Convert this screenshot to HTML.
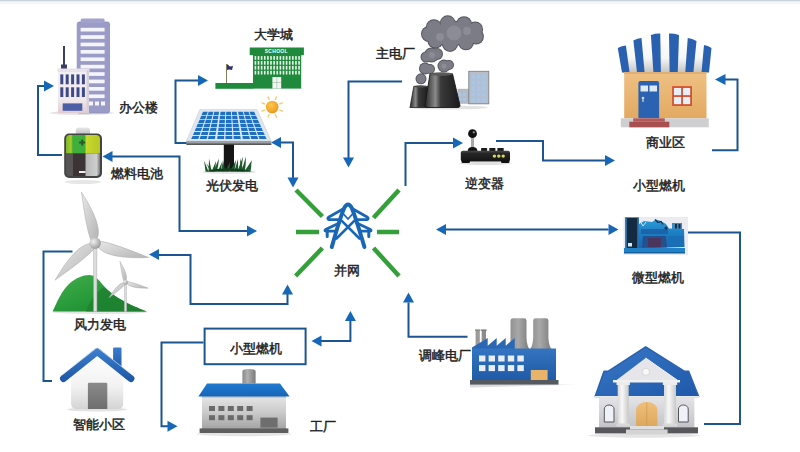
<!DOCTYPE html>
<html><head><meta charset="utf-8">
<style>
html,body{margin:0;padding:0;background:#fff;}
svg{display:block;}
text{font-family:"Liberation Sans",sans-serif;font-size:13px;fill:#222;stroke:#222;stroke-width:0.45px;}
</style></head><body>
<svg width="800" height="452" viewBox="0 0 800 452">
<defs>
<marker id="ah" viewBox="0 0 10 11" refX="10" refY="5.5" markerWidth="10" markerHeight="11" markerUnits="userSpaceOnUse" orient="auto"><path d="M0,0 L10,5.5 L0,11 Z" fill="#1767b8"/></marker>
</defs>
<rect x="0" y="0" width="800" height="452" fill="#fff"/>
<rect x="0" y="1" width="800" height="3" fill="#f4f8fc"/><rect x="0" y="0" width="800" height="1.3" fill="#c9d3dd"/>

<!-- connector lines -->
<g fill="none" stroke="#1c5592" stroke-width="2">
  <!-- battery -> office -->
  <polyline points="62,155 38,155 38,86 45,86"/>
  <!-- fuel line -> battery, and to pylon -->
  <polyline points="248,231 179.5,231 179.5,156.5 112,156.5"/>
  <!-- solar -> school -->
  <polyline points="187,143 175.5,143 175.5,80.5 199,80.5"/>
  <!-- solar <-> pylon -->
  <polyline points="281,142.5 293,142.5 293,178"/>
  <!-- main plant -> pylon -->
  <polyline points="402,81.5 348.5,81.5 348.5,158"/>
  <!-- pylon -> inverter -->
  <polyline points="405.5,186 405.5,143 454,143"/>
  <!-- inverter -> small turbine -->
  <polyline points="496,141 543,141 543,160.5 606,160.5"/>
  <!-- shop loop -->
  <polyline points="712,150.3 737.5,150.3 737.5,79.5 725,79.5"/>
  <!-- bidirectional generator -->
  <polyline points="446,229.6 608.5,229.6"/>
  <!-- generator -> bank -->
  <polyline points="684,232.5 740,232.5 740,423.9 704,423.9"/>
  <!-- peak plant -> pylon -->
  <polyline points="467.5,336.8 408.5,336.8 408.5,302.5"/>
  <!-- wind <-> pylon -->
  <polyline points="159,255 190.5,255 190.5,304 287.5,304 287.5,294"/>
  <!-- wind -> house -->
  <polyline points="72.5,251.5 43.5,251.5 43.5,381 52,381"/>
  <!-- box -> factory -->
  <polyline points="203.5,342.6 161.5,342.6 161.5,426.3 168,426.3"/>
  <!-- box <-> pylon -->
  <polyline points="321,341 350.4,341 350.4,321"/>
</g>
<g fill="#1767b8">
  <path d="M54,86 L44,80.5 L44,91.5Z"/>
  <path d="M102.5,156.5 L112.5,151 L112.5,162Z"/>
  <path d="M257,231 L247,225.5 L247,236.5Z"/>
  <path d="M208,80.5 L198,75 L198,86Z"/>
  <path d="M271,142.5 L281,137 L281,148Z"/>
  <path d="M293,187.5 L287.5,177.5 L298.5,177.5Z"/>
  <path d="M348.5,167.5 L343,157.5 L354,157.5Z"/>
  <path d="M463,143 L453,137.5 L453,148.5Z"/>
  <path d="M615,160.5 L605,155 L605,166Z"/>
  <path d="M715,79.5 L725.5,74 L725.5,85Z"/>
  <path d="M436,229.6 L446,224 L446,235Z"/>
  <path d="M618.5,229.6 L608.5,224 L608.5,235Z"/>
  <path d="M408.5,292.5 L403,302.5 L414,302.5Z"/>
  <path d="M149,254.5 L159,249 L159,260Z"/>
  <path d="M287.5,284.5 L282,294.5 L293,294.5Z"/>
  <path d="M177.5,426.3 L167.5,420.8 L167.5,431.8Z"/>
  <path d="M311.5,341 L321.5,335.5 L321.5,346.5Z"/>
  <path d="M350.4,311 L344.9,321 L355.9,321Z"/>
</g>

<!-- green dashes -->
<g stroke="#34a03a" stroke-width="4.5" stroke-linecap="butt">
  <line x1="296" y1="190" x2="322.4" y2="216.5"/>
  <line x1="399" y1="190" x2="373.5" y2="217.8"/>
  <line x1="296" y1="232" x2="319" y2="232"/>
  <line x1="377" y1="232" x2="399" y2="232"/>
  <line x1="322.4" y1="248" x2="295.6" y2="276"/>
  <line x1="373.5" y1="248" x2="399" y2="276"/>
</g>

<!-- small gas turbine box -->
<rect x="204.6" y="328.6" width="101" height="35.6" fill="#fff" stroke="#1c5592" stroke-width="2"/>


<!-- office building -->
<g id="office">
  <ellipse cx="82" cy="113" rx="32" ry="2" fill="#e4e4e8"/>
  <rect x="77.2" y="22" width="32.3" height="91" rx="2" fill="#9a9bc6" stroke="#8c8dba" stroke-width="0.8"/>
  <rect x="80.6" y="18.6" width="24" height="4.5" rx="1.5" fill="#a2a3cc"/>
  
  <g fill="#f4f4fb">
    <rect x="80.6" y="27.8" width="24" height="3.7"/>
    <rect x="80.6" y="35.2" width="24" height="3.7"/>
    <rect x="80.6" y="42.6" width="24" height="3.7"/>
    <rect x="80.6" y="50.0" width="24" height="3.7"/>
    <rect x="80.6" y="57.4" width="24" height="3.7"/>
    <rect x="80.6" y="64.8" width="24" height="3.7"/>
    <rect x="80.6" y="72.2" width="24" height="3.7"/>
    <rect x="80.6" y="79.6" width="24" height="3.7"/>
    <rect x="80.6" y="87.0" width="24" height="3.7"/>
    <rect x="80.6" y="94.4" width="24" height="3.7"/>
  </g>
  <g fill="#f4f4fb"><rect x="89" y="101.5" width="4" height="4"/><rect x="95" y="101.5" width="4" height="4"/><rect x="101" y="101.5" width="4" height="4"/></g>
  <rect x="63" y="46" width="2" height="20" fill="#3b3f63"/>
  <rect x="61" y="64.5" width="6" height="5" fill="#3b3f63"/>
  <defs><linearGradient id="offg" x1="0" y1="0" x2="0" y2="1"><stop offset="0" stop-color="#f3f0f4"/><stop offset="0.7" stop-color="#f0e8ec"/><stop offset="1" stop-color="#e2cdd3"/></linearGradient></defs>
  <rect x="58" y="69" width="31" height="44" fill="url(#offg)"/>
  <rect x="57.5" y="68.5" width="32" height="3.5" fill="#e8e2ea"/>
  <rect x="86.5" y="70" width="2.5" height="43" fill="#d8d0d8"/>
  <g fill="#3e4a88">
    <rect x="60.3" y="74.4" width="3" height="9.9"/><rect x="60.3" y="87.3" width="3" height="9.7"/>
    <rect x="65.7" y="74.4" width="3" height="9.9"/><rect x="65.7" y="87.3" width="3" height="9.7"/>
    <rect x="71.1" y="74.4" width="3" height="9.9"/><rect x="71.1" y="87.3" width="3" height="9.7"/>
    <rect x="76.5" y="74.4" width="3" height="9.9"/><rect x="76.5" y="87.3" width="3" height="9.7"/>
    <rect x="81.9" y="74.4" width="3" height="9.9"/><rect x="81.9" y="87.3" width="3" height="9.7"/>
  </g>
  <rect x="62.7" y="103.4" width="19.6" height="7.4" fill="#4b5ea6"/>
</g>


<!-- fuel cell battery -->
<g id="battery">
  <defs>
    <linearGradient id="capg" x1="0" y1="0" x2="0" y2="1"><stop offset="0" stop-color="#e8e8e8"/><stop offset="1" stop-color="#b8b8b8"/></linearGradient>
    <linearGradient id="btop" x1="0" y1="0" x2="1" y2="0"><stop offset="0" stop-color="#7cb82a"/><stop offset="0.15" stop-color="#a6cc2a"/><stop offset="0.2" stop-color="#3fae3a"/><stop offset="0.55" stop-color="#3fae3a"/><stop offset="0.6" stop-color="#c9d82c"/><stop offset="1" stop-color="#b4c824"/></linearGradient>
    <linearGradient id="bbot" x1="0" y1="0" x2="1" y2="0"><stop offset="0" stop-color="#555"/><stop offset="0.2" stop-color="#5a5454"/><stop offset="0.22" stop-color="#3c3434"/><stop offset="0.55" stop-color="#3c3434"/><stop offset="0.6" stop-color="#b8b8b8"/><stop offset="0.9" stop-color="#cfcfcf"/><stop offset="1" stop-color="#777"/></linearGradient>
  </defs>
  <ellipse cx="83" cy="182" rx="18" ry="2" fill="#e6e6e6"/>
  <rect x="75.8" y="127.5" width="14.2" height="8" rx="3" fill="url(#capg)"/>
  <rect x="64.2" y="133.6" width="37.8" height="44.4" rx="5" fill="#444"/>
  <path d="M66,139 a4,4 0 0 1 4,-4 h26 a4,4 0 0 1 4,4 v14.4 h-34z" fill="url(#btop)"/>
  <path d="M66,153.4 h34 v18.6 a4,4 0 0 1 -4,4 h-26 a4,4 0 0 1 -4,-4z" fill="url(#bbot)"/>
  <path d="M79.2,142.5 h6 M82.2,139.5 v6" stroke="#2a5a2a" stroke-width="2"/>
  <rect x="79" y="171" width="6.5" height="2" fill="#f0f0f0"/>
</g>


<!-- school -->
<g id="school">
  <rect x="249.7" y="47.5" width="54.2" height="7.7" fill="#1f8a3c"/>
  <rect x="253" y="55" width="48.2" height="33.6" fill="#1f8a3c"/>
  <rect x="215.4" y="83" width="38" height="5.8" fill="#1f8a3c"/>
  <text x="276.3" y="53.2" text-anchor="middle" style="font-size:5px;font-weight:bold;fill:#f2fff2;stroke:none;letter-spacing:0.3px">SCHOOL</text>
  <g fill="#eaf7ea"><rect x="254.60" y="56.10" width="1.6" height="3.7"/><rect x="257.72" y="56.10" width="1.6" height="3.7"/><rect x="260.84" y="56.10" width="1.6" height="3.7"/><rect x="263.96" y="56.10" width="1.6" height="3.7"/><rect x="267.08" y="56.10" width="1.6" height="3.7"/><rect x="270.20" y="56.10" width="1.6" height="3.7"/><rect x="273.32" y="56.10" width="1.6" height="3.7"/><rect x="276.44" y="56.10" width="1.6" height="3.7"/><rect x="279.56" y="56.10" width="1.6" height="3.7"/><rect x="282.68" y="56.10" width="1.6" height="3.7"/><rect x="285.80" y="56.10" width="1.6" height="3.7"/><rect x="288.92" y="56.10" width="1.6" height="3.7"/><rect x="292.04" y="56.10" width="1.6" height="3.7"/><rect x="295.16" y="56.10" width="1.6" height="3.7"/><rect x="298.28" y="56.10" width="1.6" height="3.7"/><rect x="254.60" y="61.00" width="1.6" height="3.7"/><rect x="257.72" y="61.00" width="1.6" height="3.7"/><rect x="260.84" y="61.00" width="1.6" height="3.7"/><rect x="263.96" y="61.00" width="1.6" height="3.7"/><rect x="267.08" y="61.00" width="1.6" height="3.7"/><rect x="270.20" y="61.00" width="1.6" height="3.7"/><rect x="273.32" y="61.00" width="1.6" height="3.7"/><rect x="276.44" y="61.00" width="1.6" height="3.7"/><rect x="279.56" y="61.00" width="1.6" height="3.7"/><rect x="282.68" y="61.00" width="1.6" height="3.7"/><rect x="285.80" y="61.00" width="1.6" height="3.7"/><rect x="288.92" y="61.00" width="1.6" height="3.7"/><rect x="292.04" y="61.00" width="1.6" height="3.7"/><rect x="295.16" y="61.00" width="1.6" height="3.7"/><rect x="298.28" y="61.00" width="1.6" height="3.7"/><rect x="254.60" y="65.90" width="1.6" height="3.7"/><rect x="257.72" y="65.90" width="1.6" height="3.7"/><rect x="260.84" y="65.90" width="1.6" height="3.7"/><rect x="263.96" y="65.90" width="1.6" height="3.7"/><rect x="267.08" y="65.90" width="1.6" height="3.7"/><rect x="270.20" y="65.90" width="1.6" height="3.7"/><rect x="273.32" y="65.90" width="1.6" height="3.7"/><rect x="276.44" y="65.90" width="1.6" height="3.7"/><rect x="279.56" y="65.90" width="1.6" height="3.7"/><rect x="282.68" y="65.90" width="1.6" height="3.7"/><rect x="285.80" y="65.90" width="1.6" height="3.7"/><rect x="288.92" y="65.90" width="1.6" height="3.7"/><rect x="292.04" y="65.90" width="1.6" height="3.7"/><rect x="295.16" y="65.90" width="1.6" height="3.7"/><rect x="298.28" y="65.90" width="1.6" height="3.7"/><rect x="254.60" y="70.80" width="1.6" height="3.7"/><rect x="257.72" y="70.80" width="1.6" height="3.7"/><rect x="260.84" y="70.80" width="1.6" height="3.7"/><rect x="263.96" y="70.80" width="1.6" height="3.7"/><rect x="267.08" y="70.80" width="1.6" height="3.7"/><rect x="270.20" y="70.80" width="1.6" height="3.7"/><rect x="273.32" y="70.80" width="1.6" height="3.7"/><rect x="276.44" y="70.80" width="1.6" height="3.7"/><rect x="279.56" y="70.80" width="1.6" height="3.7"/><rect x="282.68" y="70.80" width="1.6" height="3.7"/><rect x="285.80" y="70.80" width="1.6" height="3.7"/><rect x="288.92" y="70.80" width="1.6" height="3.7"/><rect x="292.04" y="70.80" width="1.6" height="3.7"/><rect x="295.16" y="70.80" width="1.6" height="3.7"/><rect x="298.28" y="70.80" width="1.6" height="3.7"/></g>
  <rect x="272.4" y="77" width="8.8" height="11.6" fill="#f4f4f4"/>
  <path d="M276.8,77 v11.6 M272.4,82.5 h8.8" stroke="#9bb89b" stroke-width="0.6"/>
  <rect x="226" y="64" width="1" height="19" fill="#8a7a5a"/>
  <path d="M227,64 L230,66.5 L233,66 L232,70 L229,69.5 L227,70 Z" fill="#2c3470"/>
</g>

<!-- solar panel -->
<g id="solar">
  <defs><radialGradient id="sung" cx="0.4" cy="0.35" r="0.7"><stop offset="0" stop-color="#fbc94a"/><stop offset="1" stop-color="#ee9420"/></radialGradient></defs>
  <g stroke="#f4c870" stroke-width="1.3" stroke-linecap="round"><line x1="279.8" y1="110.1" x2="282.4" y2="111.2"/><line x1="275.3" y1="114.6" x2="276.4" y2="117.2"/><line x1="269.1" y1="114.6" x2="268.0" y2="117.2"/><line x1="264.6" y1="110.1" x2="262.0" y2="111.2"/><line x1="264.6" y1="103.9" x2="262.0" y2="102.8"/><line x1="269.1" y1="99.4" x2="268.0" y2="96.8"/><line x1="275.3" y1="99.4" x2="276.4" y2="96.8"/><line x1="279.8" y1="103.9" x2="282.4" y2="102.8"/></g>
  <circle cx="272.2" cy="107" r="6.3" fill="url(#sung)"/>
  <ellipse cx="229" cy="172" rx="27" ry="2" fill="#e6e6e6"/>
  <rect x="223.8" y="144" width="10.2" height="27" fill="#151515"/>
  <path d="M199.8,109.5 L257,109.5 L271.3,141.1 L186.4,141.1 Z" fill="#dfe5ec" stroke="#c8d0d8" stroke-width="0.6"/>
  <path d="M186.4,141.1 L271.3,141.1 L271.3,144.5 L186.4,144.5 Z" fill="#9aa0a6"/>
  <rect x="186.4" y="143.6" width="85" height="1.2" fill="#3a3a3a"/>
  <g fill="#1f70c2"><path d="M203.0,111.8 L207.8,111.8 L206.6,115.0 L201.6,115.0Z"/><path d="M208.7,111.8 L213.4,111.8 L212.6,115.0 L207.6,115.0Z"/><path d="M214.4,111.8 L219.1,111.8 L218.6,115.0 L213.6,115.0Z"/><path d="M220.6,111.8 L225.3,111.8 L225.2,115.0 L220.1,115.0Z"/><path d="M226.2,111.8 L231.0,111.8 L231.1,115.0 L226.1,115.0Z"/><path d="M231.9,111.8 L236.6,111.8 L237.1,115.0 L232.1,115.0Z"/><path d="M238.1,111.8 L242.8,111.8 L243.7,115.0 L238.7,115.0Z"/><path d="M243.8,111.8 L248.5,111.8 L249.7,115.0 L244.6,115.0Z"/><path d="M249.4,111.8 L254.2,111.8 L255.6,115.0 L250.6,115.0Z"/><path d="M201.3,115.8 L206.4,115.8 L205.2,119.0 L199.9,119.0Z"/><path d="M207.3,115.8 L212.4,115.8 L211.6,119.0 L206.3,119.0Z"/><path d="M213.4,115.8 L218.5,115.8 L218.0,119.0 L212.7,119.0Z"/><path d="M220.0,115.8 L225.1,115.8 L225.0,119.0 L219.6,119.0Z"/><path d="M226.1,115.8 L231.2,115.8 L231.4,119.0 L226.0,119.0Z"/><path d="M232.2,115.8 L237.2,115.8 L237.7,119.0 L232.4,119.0Z"/><path d="M238.8,115.8 L243.9,115.8 L244.7,119.0 L239.4,119.0Z"/><path d="M244.9,115.8 L249.9,115.8 L251.1,119.0 L245.7,119.0Z"/><path d="M250.9,115.8 L256.0,115.8 L257.5,119.0 L252.1,119.0Z"/><path d="M199.6,119.8 L205.0,119.8 L203.8,123.0 L198.2,123.0Z"/><path d="M206.0,119.8 L211.4,119.8 L210.6,123.0 L204.9,123.0Z"/><path d="M212.5,119.8 L217.9,119.8 L217.4,123.0 L211.7,123.0Z"/><path d="M219.5,119.8 L224.9,119.8 L224.8,123.0 L219.1,123.0Z"/><path d="M226.0,119.8 L231.4,119.8 L231.6,123.0 L225.9,123.0Z"/><path d="M232.4,119.8 L237.9,119.8 L238.3,123.0 L232.7,123.0Z"/><path d="M239.5,119.8 L244.9,119.8 L245.8,123.0 L240.1,123.0Z"/><path d="M246.0,119.8 L251.4,119.8 L252.5,123.0 L246.8,123.0Z"/><path d="M252.4,119.8 L257.8,119.8 L259.3,123.0 L253.6,123.0Z"/><path d="M197.8,123.8 L203.6,123.8 L202.4,127.0 L196.4,127.0Z"/><path d="M204.7,123.8 L210.4,123.8 L209.6,127.0 L203.6,127.0Z"/><path d="M211.5,123.8 L217.3,123.8 L216.8,127.0 L210.8,127.0Z"/><path d="M219.0,123.8 L224.8,123.8 L224.6,127.0 L218.6,127.0Z"/><path d="M225.9,123.8 L231.6,123.8 L231.8,127.0 L225.8,127.0Z"/><path d="M232.7,123.8 L238.5,123.8 L238.9,127.0 L232.9,127.0Z"/><path d="M240.2,123.8 L246.0,123.8 L246.8,127.0 L240.8,127.0Z"/><path d="M247.1,123.8 L252.8,123.8 L254.0,127.0 L248.0,127.0Z"/><path d="M253.9,123.8 L259.7,123.8 L261.1,127.0 L255.1,127.0Z"/><path d="M196.1,127.8 L202.2,127.8 L201.0,131.0 L194.7,131.0Z"/><path d="M203.3,127.8 L209.4,127.8 L208.6,131.0 L202.3,131.0Z"/><path d="M210.6,127.8 L216.6,127.8 L216.1,131.0 L209.8,131.0Z"/><path d="M218.5,127.8 L224.6,127.8 L224.4,131.0 L218.1,131.0Z"/><path d="M225.7,127.8 L231.8,127.8 L232.0,131.0 L225.7,131.0Z"/><path d="M233.0,127.8 L239.1,127.8 L239.5,131.0 L233.2,131.0Z"/><path d="M240.9,127.8 L247.0,127.8 L247.8,131.0 L241.5,131.0Z"/><path d="M248.2,127.8 L254.2,127.8 L255.4,131.0 L249.1,131.0Z"/><path d="M255.4,127.8 L261.5,127.8 L262.9,131.0 L256.6,131.0Z"/><path d="M194.3,131.9 L200.7,131.9 L199.6,135.1 L193.0,135.1Z"/><path d="M202.0,131.9 L208.4,131.9 L207.6,135.1 L200.9,135.1Z"/><path d="M209.6,131.9 L216.0,131.9 L215.5,135.1 L208.9,135.1Z"/><path d="M218.0,131.9 L224.4,131.9 L224.2,135.1 L217.6,135.1Z"/><path d="M225.6,131.9 L232.0,131.9 L232.2,135.1 L225.5,135.1Z"/><path d="M233.3,131.9 L239.7,131.9 L240.2,135.1 L233.5,135.1Z"/><path d="M241.6,131.9 L248.0,131.9 L248.9,135.1 L242.2,135.1Z"/><path d="M249.3,131.9 L255.7,131.9 L256.8,135.1 L250.2,135.1Z"/><path d="M256.9,131.9 L263.3,131.9 L264.8,135.1 L258.1,135.1Z"/><path d="M192.6,135.9 L199.3,135.9 L198.2,139.1 L191.2,139.1Z"/><path d="M200.6,135.9 L207.4,135.9 L206.6,139.1 L199.6,139.1Z"/><path d="M208.7,135.9 L215.4,135.9 L214.9,139.1 L207.9,139.1Z"/><path d="M217.5,135.9 L224.2,135.9 L224.1,139.1 L217.1,139.1Z"/><path d="M225.5,135.9 L232.2,135.9 L232.4,139.1 L225.4,139.1Z"/><path d="M233.5,135.9 L240.3,135.9 L240.8,139.1 L233.8,139.1Z"/><path d="M242.3,135.9 L249.1,135.9 L249.9,139.1 L242.9,139.1Z"/><path d="M250.4,135.9 L257.1,135.9 L258.3,139.1 L251.3,139.1Z"/><path d="M258.4,135.9 L265.1,135.9 L266.6,139.1 L259.6,139.1Z"/></g>
  <g fill="#1d5a2a"><path d="M205.5,171.5 Q204.9,166.0 204,160.5 Q206.7,167.0 208.5,171.5 Z"/><path d="M208.5,171.5 Q208.9,165.0 209,158.5 Q210.7,166.0 211.5,171.5 Z"/><path d="M211.5,171.5 Q213.9,166.2 216,161 Q215.7,167.2 214.5,171.5 Z"/><path d="M213.2,171.5 Q216.3,165.0 219,158.5 Q218.4,166.0 216.8,171.5 Z"/><path d="M217.5,171.5 Q219.9,166.8 222,162 Q221.7,167.8 220.5,171.5 Z"/><path d="M221.0,171.5 Q222.2,165.8 223,160 Q224.6,166.8 225.0,171.5 Z"/><path d="M225.0,171.5 Q227.7,166.8 230,162 Q230.1,167.8 229.0,171.5 Z"/><path d="M230.0,171.5 Q233.2,165.8 236,160 Q235.6,166.8 234.0,171.5 Z"/><path d="M234.2,171.5 Q236.3,165.2 238,159 Q238.4,166.2 237.8,171.5 Z"/><path d="M237.2,171.5 Q240.3,164.0 243,156.5 Q242.4,165.0 240.8,171.5 Z"/><path d="M241.2,171.5 Q243.8,164.0 246,156.5 Q245.9,165.0 244.8,171.5 Z"/><path d="M244.2,171.5 Q248.3,165.8 252,160 Q250.4,166.8 247.8,171.5 Z"/><path d="M247.5,171.5 Q249.7,166.2 251.5,161 Q251.4,167.2 250.5,171.5 Z"/><path d="M210.5,171.5 Q208.4,167.2 206,163 Q210.2,168.2 213.5,171.5 Z"/><path d="M240.5,171.5 Q240.4,164.8 240,158 Q242.2,165.8 243.5,171.5 Z"/></g><path d="M205,171.5 Q228,165 252,171.5 Z" fill="#123d1c"/>
</g>


<!-- main power plant -->
<g id="mainplant">
  <defs>
    <linearGradient id="towg" x1="0" y1="0" x2="1" y2="0"><stop offset="0" stop-color="#2a2a2a"/><stop offset="0.3" stop-color="#8a8a8a"/><stop offset="0.45" stop-color="#3a3a3a"/><stop offset="1" stop-color="#1a1a1a"/></linearGradient>
    <radialGradient id="cloudg" cx="0.5" cy="0.45" r="0.6"><stop offset="0" stop-color="#9a9a9e"/><stop offset="1" stop-color="#6e6e72"/></radialGradient>
  </defs>
  <g fill="#56565e"><circle cx="453" cy="33.5" r="13"/><circle cx="442" cy="34.5" r="11"/><circle cx="464" cy="33.5" r="11"/><circle cx="475.9" cy="36.6" r="8"/><circle cx="466.0" cy="42.3" r="8"/><circle cx="450.0" cy="43.9" r="8"/><circle cx="435.4" cy="40.6" r="8"/><circle cx="429.0" cy="34.0" r="8"/><circle cx="433.9" cy="27.2" r="8"/><circle cx="447.7" cy="23.3" r="8"/><circle cx="464.0" cy="24.2" r="8"/><circle cx="475.1" cy="29.4" r="8"/><circle cx="431.5" cy="55" r="7.5"/><circle cx="437" cy="54" r="6"/><circle cx="426" cy="57" r="5.5"/><circle cx="444" cy="66" r="6.5"/><circle cx="449" cy="65" r="5"/><circle cx="425" cy="68.5" r="6"/><circle cx="430" cy="69" r="5"/><circle cx="421" cy="78.8" r="5.5"/></g>
  <g fill="#7c7c86"><circle cx="453" cy="33.5" r="12"/><circle cx="442" cy="34.5" r="10"/><circle cx="464" cy="33.5" r="10"/><circle cx="475.9" cy="36.6" r="7"/><circle cx="466.0" cy="42.3" r="7"/><circle cx="450.0" cy="43.9" r="7"/><circle cx="435.4" cy="40.6" r="7"/><circle cx="429.0" cy="34.0" r="7"/><circle cx="433.9" cy="27.2" r="7"/><circle cx="447.7" cy="23.3" r="7"/><circle cx="464.0" cy="24.2" r="7"/><circle cx="475.1" cy="29.4" r="7"/><circle cx="431.5" cy="55" r="6.5"/><circle cx="437" cy="54" r="5"/><circle cx="426" cy="57" r="4.5"/><circle cx="444" cy="66" r="5.5"/><circle cx="449" cy="65" r="4"/><circle cx="425" cy="68.5" r="5"/><circle cx="430" cy="69" r="4"/><circle cx="421" cy="78.8" r="4.5"/></g>
  <g fill="#8c8c96"><circle cx="454" cy="33" r="7.5"/><circle cx="440" cy="37" r="4"/><circle cx="467" cy="31" r="4"/><circle cx="432" cy="55" r="3"/><circle cx="444" cy="66" r="2.5"/></g>
  <ellipse cx="448" cy="107.5" rx="40" ry="2" fill="#e2e2e2"/>
  <rect x="457.5" y="88.8" width="12" height="15" fill="#b4bac4"/>
  <g fill="#a6c6ea"><rect x="458.3" y="92.5" width="3" height="3.8"/><rect x="462.9" y="92.5" width="3" height="3.8"/><rect x="458.3" y="97.8" width="3" height="3.8"/><rect x="462.9" y="97.8" width="3" height="3.8"/></g>
  <rect x="468.8" y="71.3" width="20" height="32.5" fill="#b8bec8" stroke="#7a828c" stroke-width="0.9"/>
  <g fill="#a6c6ea"><rect x="471.5" y="74.5" width="3.6" height="4.4"/><rect x="476.9" y="74.5" width="3.6" height="4.4"/><rect x="482.3" y="74.5" width="3.6" height="4.4"/><rect x="471.5" y="80.4" width="3.6" height="4.4"/><rect x="476.9" y="80.4" width="3.6" height="4.4"/><rect x="482.3" y="80.4" width="3.6" height="4.4"/><rect x="471.5" y="86.3" width="3.6" height="4.4"/><rect x="476.9" y="86.3" width="3.6" height="4.4"/><rect x="482.3" y="86.3" width="3.6" height="4.4"/><rect x="471.5" y="92.2" width="3.6" height="4.4"/><rect x="476.9" y="92.2" width="3.6" height="4.4"/><rect x="482.3" y="92.2" width="3.6" height="4.4"/><rect x="471.5" y="98.1" width="3.6" height="4.4"/><rect x="476.9" y="98.1" width="3.6" height="4.4"/><rect x="482.3" y="98.1" width="3.6" height="4.4"/></g>
  <path d="M413.8,86.3 L427.5,86.3 L429,107.5 L410,107.5 Z" fill="url(#towg)" stroke="#222" stroke-width="0.8"/>
  <ellipse cx="420.6" cy="86.5" rx="6.8" ry="1.2" fill="#4a4a4a"/>
  <path d="M430,73.8 L452.5,73.8 L460,105.5 Q460,107.5 458,107.5 L427,107.5 Q425,107.5 425,105.5 Z" fill="url(#towg)" stroke="#1a1a1a" stroke-width="0.9"/>
  <ellipse cx="441.2" cy="74" rx="11.2" ry="1.8" fill="#5a5a5a"/>
  
</g>


<!-- inverter -->
<g id="inverter">
  <defs><linearGradient id="invg" x1="0" y1="0" x2="0" y2="1"><stop offset="0" stop-color="#4a4a4a"/><stop offset="0.25" stop-color="#262626"/><stop offset="1" stop-color="#141414"/></linearGradient></defs>
  <ellipse cx="485.5" cy="163.5" rx="26" ry="1.5" fill="#e0e0e0"/>
  <rect x="471" y="137" width="3" height="11" fill="#a8a8a8"/>
  <circle cx="472.5" cy="133.7" r="4.4" fill="#111"/>
  <circle cx="473.8" cy="132.3" r="1.1" fill="#9a9a9a"/>
  <path d="M467.7,151 Q467.7,146.9 472.5,146.9 Q477.4,146.9 477.4,151 Z" fill="#151515"/>
  <rect x="481.1" y="147.9" width="6" height="3.5" rx="0.6" fill="#1a1a1a"/>
  <rect x="489.3" y="147.9" width="6.1" height="3.5" rx="0.6" fill="#1a1a1a"/>
  <rect x="497.4" y="147.9" width="6.3" height="3.5" rx="0.6" fill="#1a1a1a"/>
  <rect x="460.8" y="150.8" width="49.2" height="10.7" rx="2" fill="url(#invg)"/>
  <rect x="461.5" y="160" width="8.5" height="3" rx="1.2" fill="#111"/>
  <rect x="501" y="160" width="8.5" height="3" rx="1.2" fill="#111"/>
  <g fill="#d6dc5a"><circle cx="494.4" cy="156.1" r="1.7"/><circle cx="498.8" cy="156.1" r="1.7"/><circle cx="503.2" cy="156.1" r="1.7"/></g>
</g>


<!-- shop -->
<g id="shop">
  <defs>
    <linearGradient id="wallg" x1="0" y1="0" x2="0" y2="1"><stop offset="0" stop-color="#efc184"/><stop offset="1" stop-color="#e2a962"/></linearGradient>
    <linearGradient id="awg" x1="0" y1="0" x2="0" y2="1"><stop offset="0" stop-color="#ffffff"/><stop offset="0.6" stop-color="#f6f6f6"/><stop offset="1" stop-color="#c4c4c4"/></linearGradient>
  </defs>
  <path d="M620,50 Q664.8,22 709,50 L707,72.5 L623,72.5 Z" fill="url(#awg)"/>
  <g fill="#2a60b0"><path d="M617.75,48 Q621.825,45.95 625.9,45.5 L629.6,72.5 L622,72.5 Z"/><path d="M633.4,40.5 Q637.45,38.45 641.5,38 L644.6,72.5 L637,72.5 Z"/><path d="M650.9,34.9 Q655.575,33.45 660.25,33.6 L660.9,72.5 L653.4,72.5 Z"/><path d="M669,33.6 Q674.0,33.5 679,35 L677.75,72.5 L669.6,72.5 Z"/><path d="M687.75,38 Q692.125,38.7 696.5,41 L693.4,72.5 L685.25,72.5 Z"/><path d="M704,45 Q707.75,45.7 711.5,48 L709,72.5 L701.5,72.5 Z"/></g>
  <rect x="624.2" y="72" width="82.3" height="46.3" fill="url(#wallg)"/>
  <rect x="624.2" y="72" width="82.3" height="2" fill="#d9a466" opacity="0.6"/>
  <path d="M638.4,118.3 V83 a2,2 0 0 1 2,-2 h16.7 a2,2 0 0 1 2,2 V118.3 Z" fill="#2b63b2"/>
  <rect x="640.5" y="85.5" width="7.5" height="6" fill="#dfe9f5"/>
  <rect x="649.5" y="85.5" width="7.5" height="6" fill="#dfe9f5"/>
  <circle cx="643" cy="98" r="1.3" fill="#d8d8c8"/><rect x="642.4" y="98" width="1.2" height="4" fill="#d8d8c8"/>
  <rect x="672.2" y="86.2" width="19.7" height="19.7" fill="#d3492a"/>
  <rect x="673.9" y="87.9" width="7.3" height="7.3" fill="#e6eef8"/><rect x="682.9" y="87.9" width="7.3" height="7.3" fill="#e6eef8"/>
  <rect x="673.9" y="96.9" width="7.3" height="7.3" fill="#e6eef8"/><rect x="682.9" y="96.9" width="7.3" height="7.3" fill="#e6eef8"/>
  <rect x="620.8" y="118.3" width="88" height="9" fill="#cfcfd2"/>
  <rect x="633.2" y="118.3" width="31.6" height="3.4" fill="#b45a5a"/>
  <rect x="629.3" y="121.7" width="40" height="5.6" fill="#a85050"/>
</g>


<!-- generator -->
<g id="generator">
  <defs><linearGradient id="engg" x1="0" y1="0" x2="0" y2="1"><stop offset="0" stop-color="#2c9ad8"/><stop offset="0.5" stop-color="#1c7cc2"/><stop offset="1" stop-color="#1668b0"/></linearGradient></defs>
  <rect x="623.5" y="217" width="64.5" height="38" fill="#ececf0"/>
  <path d="M639,224 L644,221 L652,222 L656,219.5 L661,221 L666,224 L669,228.5 L684,229 L684.5,247 L639,248.5 Z" fill="url(#engg)"/>
  <path d="M641,229 L668,229 L668,234 L641,234 Z" fill="#1d5ea4" opacity="0.8"/>
  <path d="M643,236 L666,236 L667,247.5 L642,247.5 Z" fill="#23508e"/>
  <path d="M648,238 L661,238 L661,247 L648,247 Z" fill="#5a2a48" opacity="0.7"/>
  <path d="M668,236 L684,236 L684,246 L668,246 Z" fill="#1a6eb6"/>
  <rect x="672" y="223" width="10" height="6" fill="#3a8ac4"/>
  <rect x="675" y="224" width="2" height="4.5" fill="#1a2a40"/><rect x="678.5" y="224" width="2" height="4.5" fill="#1a2a40"/>
  <path d="M655,219.5 l3,3 l3,-1 l2,3" stroke="#1a3050" stroke-width="1.3" fill="none"/>
  <path d="M640,221 l3,5 l3,-4" stroke="#d8ecfa" stroke-width="0.9" fill="none"/>
  <circle cx="666" cy="228" r="1.5" fill="#1a3050"/>
  <rect x="625" y="217.5" width="14" height="30.5" fill="#142a40"/>
  <rect x="625" y="217.5" width="1.8" height="30.5" fill="#2a80c0"/>
  <rect x="637.2" y="218" width="1.8" height="30" fill="#2a70b0"/>
  <rect x="628" y="243" width="4" height="3.5" fill="#dde8f2"/>
  <rect x="624" y="248" width="61" height="5" fill="#2282c8"/>
  <rect x="624" y="252" width="61" height="1.5" fill="#16609e"/>
</g>
<!-- pylon -->
<g id="pylon" fill="none" stroke="#1a66b6" stroke-linecap="round" stroke-linejoin="round">
  <path d="M331.8,247 C336,232 341,215 344.5,207.5 Q348,201.5 351.5,207.5 C355,215 360,232 364.4,247" stroke-width="4"/>
  <circle cx="348" cy="210.5" r="2.3" stroke-width="0"/>
  <path d="M343,209 L328.5,217.3 Q327,218.6 328.8,219.6 L340.2,219.6" stroke-width="2.8"/>
  <path d="M353,209 L367.5,217.3 Q369,218.6 367.2,219.6 L355.8,219.6" stroke-width="2.8"/>
  <path d="M339.3,223 L325.6,229.6 Q324,231 326,231.2 L336.3,231.2" stroke-width="2.8"/>
  <path d="M356.7,223 L370.4,229.6 Q372,231 370,231.2 L359.7,231.2" stroke-width="2.8"/>
  <path d="M327.2,231 V236.5 M368.8,231 V236.5" stroke-width="3"/>
  <path d="M340.5,219.6 L359.5,238.5 M355.5,219.6 L336.5,238.5" stroke-width="2.6"/>
  <path d="M343,213.5 L348,219 L353,213.5" stroke-width="1.8"/>
</g>


<!-- wind turbines -->
<g id="wind">
  <defs>
    <linearGradient id="hillg" x1="0" y1="0" x2="1" y2="1"><stop offset="0" stop-color="#46ad4c"/><stop offset="0.5" stop-color="#279a3a"/><stop offset="1" stop-color="#1c7e2e"/></linearGradient>
    <linearGradient id="bladeg" x1="0" y1="0" x2="1" y2="1"><stop offset="0" stop-color="#e8e8e8"/><stop offset="1" stop-color="#b4b4b4"/></linearGradient>
    <radialGradient id="hubg" cx="0.35" cy="0.35" r="0.7"><stop offset="0" stop-color="#f0f0f0"/><stop offset="1" stop-color="#9a9a9a"/></radialGradient>
  </defs>
  <ellipse cx="100" cy="312" rx="48" ry="2" fill="#e4e4e4"/>
  <path d="M52.6,311.6 C56,304 62,290 70,283 C76,278 83,275 89,275 C95,275 99,280 103,285 C107,290 112,294 120,299 C130,305 138,308 146.8,311.6 Z" fill="url(#hillg)"/>
  <path d="M86,311.6 C90,300 97,291 104,287 C108,290 112,294 120,299 C130,305 138,308 146.8,311.6 Z" fill="#1d7f30" opacity="0.75"/>
  <rect x="93.7" y="246" width="3.2" height="65.6" fill="#dcdcdc" stroke="#b0b0b0" stroke-width="0.5"/>
  <rect x="124.4" y="284" width="2.2" height="27.6" fill="#dcdcdc" stroke="#b0b0b0" stroke-width="0.4"/>
  <g fill="url(#bladeg)" stroke="#a8a8a8" stroke-width="0.5"><path d="M97.3,238.6 Q102.8,224.9 81.5,192.3 Q86.3,229.3 91.0,240.3 Z"/><path d="M98.2,247.5 Q108.1,259.3 148.7,257.5 Q112.5,242.8 99.9,241.1 Z"/><path d="M90.0,243.6 Q75.0,245.4 55.1,280.1 Q86.5,258.0 94.5,248.4 Z"/><path d="M126.2,280.1 Q128.1,274.9 120.0,261.4 Q122.1,276.5 123.8,280.7 Z"/><path d="M127.1,284.0 Q131.2,288.3 148.2,288.2 Q132.8,282.3 127.7,281.6 Z"/><path d="M123.2,282.8 Q117.5,283.7 109.0,297.8 Q121.8,288.3 124.9,284.5 Z"/></g>
  <circle cx="95.2" cy="243.3" r="5.7" fill="url(#hubg)"/>
  <circle cx="125.5" cy="282.3" r="2.4" fill="url(#hubg)"/>
</g>
<!-- smart house -->
<g id="house">
  <defs>
    <linearGradient id="houseg" x1="0" y1="0" x2="0" y2="1"><stop offset="0" stop-color="#ffffff"/><stop offset="0.6" stop-color="#f2f2f2"/><stop offset="1" stop-color="#d4d4d4"/></linearGradient>
    <linearGradient id="doorg" x1="0" y1="0" x2="0" y2="1"><stop offset="0" stop-color="#8a8a8a"/><stop offset="1" stop-color="#6e6e6e"/></linearGradient>
    <linearGradient id="roofg" x1="0" y1="0" x2="0" y2="1"><stop offset="0" stop-color="#3a7ccc"/><stop offset="1" stop-color="#1f5aa8"/></linearGradient>
  </defs>
  <ellipse cx="97" cy="409.5" rx="30" ry="2" fill="#e2e2e2"/>
  <rect x="113.1" y="347.6" width="8.4" height="22" rx="1" fill="url(#roofg)"/>
  <path d="M71.1,370 L97.2,352 L123.2,370 V404 a5,5 0 0 1 -5,5 H76.1 a5,5 0 0 1 -5,-5 Z" fill="url(#houseg)"/>
  <path d="M87.9,408.9 V384 a1.2,1.2 0 0 1 1.2,-1.2 h17 a1.2,1.2 0 0 1 1.2,1.2 V408.9 Z" fill="url(#doorg)"/>
  <path d="M63.5,378.5 L97.2,351.5 L130.9,378.5" fill="none" stroke="url(#roofg)" stroke-width="7" stroke-linecap="round" stroke-linejoin="round"/>
  <path d="M62,375 L97.2,347.6 L132.4,375" fill="none" stroke="#e8eef8" stroke-width="0.8" opacity="0.8"/>
</g>


<!-- factory -->
<g id="factory">
  <defs>
    <linearGradient id="factg" x1="0" y1="0" x2="0" y2="1"><stop offset="0" stop-color="#e6e6e6"/><stop offset="0.5" stop-color="#cacaca"/><stop offset="1" stop-color="#a4a4a4"/></linearGradient>
    <linearGradient id="chimg" x1="0" y1="0" x2="1" y2="0"><stop offset="0" stop-color="#8a8a8a"/><stop offset="0.4" stop-color="#b0b0b0"/><stop offset="1" stop-color="#7a7a7a"/></linearGradient>
    <linearGradient id="froofg" x1="0" y1="0" x2="0" y2="1"><stop offset="0" stop-color="#1f7ad0"/><stop offset="1" stop-color="#1665b8"/></linearGradient>
  </defs>
  <ellipse cx="244" cy="434" rx="48" ry="2.2" fill="#e4e4e4"/>
  <path d="M242.4,383.6 V371 a6.6,2 0 0 1 13.2,0 V383.6 Z" fill="url(#chimg)"/>
  <rect x="202" y="396" width="84" height="33" fill="url(#factg)"/>
  <rect x="202" y="396" width="84" height="2" fill="#b8b8b8" opacity="0.6"/>
  <path d="M207,383.6 L280,383.6 L289.6,396.4 L198.4,396.4 Z" fill="url(#froofg)"/>
  <g fill="#6a6a6a"><rect x="209.0" y="406.0" width="6" height="5"/><rect x="218.4" y="406.0" width="6" height="5"/><rect x="227.8" y="406.0" width="6" height="5"/><rect x="237.2" y="406.0" width="6" height="5"/><rect x="246.6" y="406.0" width="6" height="5"/><rect x="209.0" y="415.2" width="6" height="5"/><rect x="218.4" y="415.2" width="6" height="5"/><rect x="227.8" y="415.2" width="6" height="5"/><rect x="237.2" y="415.2" width="6" height="5"/><rect x="246.6" y="415.2" width="6" height="5"/></g>
  <rect x="260.4" y="417.6" width="17.2" height="10" fill="#6e6e6e"/>
  <rect x="199.6" y="428.4" width="88.8" height="4.6" fill="#5e5e5e"/>
</g>
<!-- peak power plant -->
<g id="peakplant">
  <defs>
    <linearGradient id="pbodyg" x1="0" y1="0" x2="0" y2="1"><stop offset="0" stop-color="#3474c0"/><stop offset="1" stop-color="#1f5aa6"/></linearGradient>
    <linearGradient id="ctowg" x1="0" y1="0" x2="1" y2="0"><stop offset="0" stop-color="#8c8c8c"/><stop offset="0.45" stop-color="#a8a8a8"/><stop offset="1" stop-color="#7c7c7c"/></linearGradient>
  </defs>
  <defs><linearGradient id="shg" x1="0" y1="0" x2="1" y2="0"><stop offset="0" stop-color="#d8d8d8"/><stop offset="0.75" stop-color="#e4e4e4"/><stop offset="1" stop-color="#ffffff"/></linearGradient></defs><path d="M470,384 L585,384.5 L470,387.5 Z" fill="url(#shg)"/>
  <path d="M510.5,320.5 Q510.5,318.2 513,318.2 L524,318.2 Q526.5,318.2 526.5,320.5 L526.5,338 Q527,346 529.5,349.5 L509,349.5 Q510.5,346 510.5,338 Z" fill="url(#ctowg)"/>
  <path d="M533.2,320.5 Q533.2,318.2 535.7,318.2 L545.9,318.2 Q548.4,318.2 548.4,320.5 L548.4,338 Q549,346 551.5,349.5 L530,349.5 Q532.6,346 533.2,338 Z" fill="url(#ctowg)"/>
  <rect x="475.6" y="330" width="4.2" height="17" fill="#9a9a9a"/><rect x="475" y="329.4" width="5.4" height="1.5" fill="#8a8a8a"/>
  <rect x="481.7" y="330" width="4.3" height="17" fill="#8c8c8c"/><rect x="481.1" y="329.4" width="5.5" height="1.5" fill="#7c7c7c"/>
  <path d="M472,349 L472,347.5 L487.7,338 L487.7,345.7 L496.7,338 L496.7,345.7 L505.7,338 L505.7,345.7 L514.7,338 L514.7,349 Z" fill="#2a68b6"/>
  <rect x="472" y="348.5" width="84" height="31.5" fill="url(#pbodyg)"/>
  <g fill="#e8eef8"><rect x="479.0" y="355.5" width="6.4" height="6"/><rect x="488.6" y="355.5" width="6.4" height="6"/><rect x="498.2" y="355.5" width="6.4" height="6"/><rect x="507.8" y="355.5" width="6.4" height="6"/><rect x="517.4" y="355.5" width="6.4" height="6"/><rect x="479.0" y="365.1" width="6.4" height="6"/><rect x="488.6" y="365.1" width="6.4" height="6"/><rect x="498.2" y="365.1" width="6.4" height="6"/><rect x="507.8" y="365.1" width="6.4" height="6"/><rect x="517.4" y="365.1" width="6.4" height="6"/></g>
  <rect x="530.8" y="370" width="16.8" height="10" fill="#e9b46a"/>
  <rect x="470" y="380" width="88.5" height="4.6" fill="#555a60"/>
</g>


<!-- bank -->
<g id="bank">
  <defs>
    <linearGradient id="broofg" x1="0" y1="0" x2="1" y2="1"><stop offset="0" stop-color="#3a78c8"/><stop offset="1" stop-color="#1f58a8"/></linearGradient>
    <linearGradient id="bwallg" x1="0" y1="0" x2="0" y2="1"><stop offset="0" stop-color="#e4e4e8"/><stop offset="1" stop-color="#c4c4c8"/></linearGradient>
    <linearGradient id="colg" x1="0" y1="0" x2="1" y2="0"><stop offset="0" stop-color="#d8d8d8"/><stop offset="0.4" stop-color="#f8f8f8"/><stop offset="1" stop-color="#c8c8c8"/></linearGradient>
    <linearGradient id="bdoorg" x1="0" y1="0" x2="0" y2="1"><stop offset="0" stop-color="#f0c078"/><stop offset="1" stop-color="#dca860"/></linearGradient>
  </defs>
  <ellipse cx="644" cy="435.5" rx="56" ry="2.2" fill="#e4e4e4"/>
  <path d="M645.7,347 L608,371.4 L604,371.4 L595.2,396.5 L698.6,396.5 L688.6,371.4 L684.6,371.4 Z" fill="url(#broofg)" stroke="#2a62b2" stroke-width="1.6" stroke-linejoin="round"/>
  <rect x="594.6" y="396" width="104.6" height="1.5" fill="#e8e8e8"/>
  <rect x="599" y="397.5" width="95.4" height="30" fill="url(#bwallg)"/>
  <path d="M645.7,358 L678.5,381 L615.3,381 Z" fill="#e6e6ea"/>
  <path d="M645.7,358 L678.5,381" stroke="#f4f4f4" stroke-width="1"/>
  <rect x="613" y="380" width="67" height="2.5" fill="#f0f0f0"/>
  <circle cx="646" cy="371.8" r="3.6" fill="#f8f8f8" stroke="#c8c8c8" stroke-width="0.6"/>
  <path d="M636,426 V410 a10.7,8 0 0 1 21.4,0 V426 Z" fill="url(#bdoorg)"/>
  <path d="M646.7,402.5 V426" stroke="#c89450" stroke-width="0.6"/>
  <path d="M604.3,422 V409 a4.85,4 0 0 1 9.7,0 V422 Z" fill="#eef2f8" stroke="#555" stroke-width="1"/>
  <path d="M678.5,422 V409 a4.85,4 0 0 1 9.7,0 V422 Z" fill="#eef2f8" stroke="#555" stroke-width="1"/>
  <rect x="617.7" y="383" width="11" height="43" fill="url(#colg)"/>
  <rect x="664" y="383" width="12" height="43" fill="url(#colg)"/>
  <rect x="616.5" y="382" width="13.4" height="3" fill="#ececec"/>
  <rect x="662.8" y="382" width="14.4" height="3" fill="#ececec"/>
  <rect x="616.5" y="423.5" width="13.4" height="3" fill="#d8d8d8"/>
  <rect x="662.8" y="423.5" width="14.4" height="3" fill="#d8d8d8"/>
  <rect x="595" y="427.3" width="103" height="6.1" fill="#58585c"/>
  <rect x="630" y="426" width="34" height="3.5" fill="#e0e0e0"/>
  <rect x="626" y="429.5" width="41.6" height="5" fill="#d4d4d6"/>
</g>

<!-- labels -->
<text x="119" y="111.5">办公楼</text>
<text x="111" y="177.5">燃料电池</text>
<text x="254" y="38.5">大学城</text>
<text x="206" y="189.5">光伏发电</text>
<text x="376" y="58">主电厂</text>
<text x="464.5" y="187.5">逆变器</text>
<text x="645.5" y="146.5">商业区</text>
<text x="633" y="189.5">小型燃机</text>
<text x="632" y="281.5">微型燃机</text>
<text x="333.5" y="275">并网</text>
<text x="73.5" y="328.5">风力发电</text>
<text x="230" y="353">小型燃机</text>
<text x="72.5" y="429">智能小区</text>
<text x="310" y="430.5">工厂</text>
<text x="418.5" y="360.3">调峰电厂</text>
</svg>
</body></html>
